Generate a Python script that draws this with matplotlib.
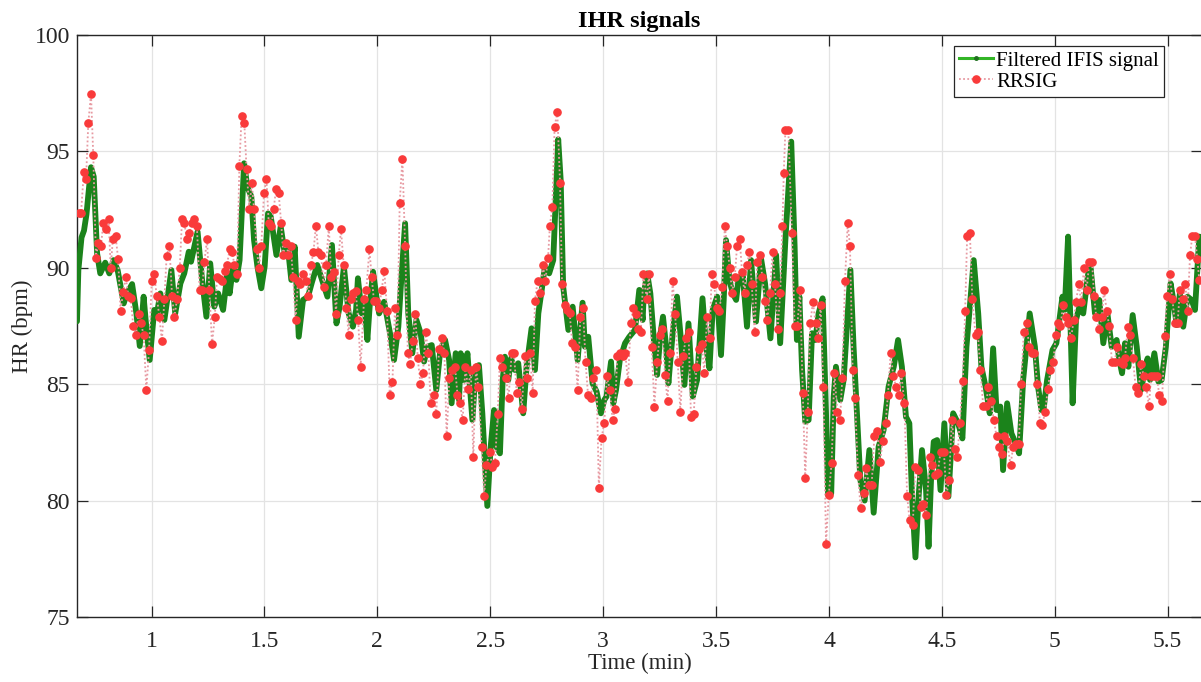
import matplotlib
matplotlib.use("Agg")
import matplotlib.pyplot as plt
from matplotlib.lines import Line2D

plt.rcParams['font.family'] = ['Liberation Serif', 'DejaVu Serif']

# Filtered IFIS heart-rate signal (time in minutes, HR in bpm)
ifis_time = [
    0.670, 0.676, 0.690, 0.701, 0.712, 0.732, 0.744, 0.759, 0.773, 0.795, 0.813,
    0.832, 0.850, 0.877, 0.891, 0.914, 0.933, 0.948, 0.965, 0.974, 0.992,
    1.012, 1.024, 1.039, 1.057, 1.088, 1.105, 1.128, 1.145, 1.165, 1.175,
    1.204, 1.224, 1.243, 1.260, 1.278, 1.295, 1.317, 1.336, 1.346, 1.361,
    1.376, 1.390, 1.410, 1.424, 1.442, 1.454, 1.469, 1.486, 1.501, 1.516,
    1.528, 1.553, 1.572, 1.590, 1.605, 1.619, 1.634, 1.652, 1.671, 1.693,
    1.711, 1.734, 1.755, 1.779, 1.799, 1.819, 1.833, 1.852, 1.873, 1.892,
    1.906, 1.914, 1.931, 1.941, 1.956, 1.966, 1.981, 1.996, 2.008, 2.030,
    2.040, 2.059, 2.074, 2.093, 2.104, 2.123, 2.137, 2.155, 2.173, 2.192,
    2.207, 2.222, 2.241, 2.261, 2.279, 2.300, 2.318, 2.329, 2.347, 2.362,
    2.369, 2.384, 2.399, 2.421, 2.436, 2.450, 2.465, 2.487, 2.502, 2.517,
    2.527, 2.543, 2.555, 2.565, 2.580, 2.592, 2.609, 2.624, 2.646, 2.661,
    2.683, 2.698, 2.713, 2.728, 2.742, 2.761, 2.779, 2.801, 2.812, 2.823,
    2.846, 2.865, 2.887, 2.909, 2.919, 2.934, 2.953, 2.971, 2.990, 3.005,
    3.015, 3.035, 3.045, 3.057, 3.074, 3.097, 3.116, 3.141, 3.160, 3.175,
    3.180, 3.195, 3.209, 3.227, 3.239, 3.254, 3.265, 3.279, 3.289, 3.308,
    3.327, 3.342, 3.360, 3.378, 3.397, 3.416, 3.440, 3.456, 3.471, 3.485,
    3.505, 3.522, 3.534, 3.544, 3.559, 3.574, 3.589, 3.599, 3.618, 3.637,
    3.655, 3.677, 3.699, 3.717, 3.741, 3.766, 3.784, 3.807, 3.833, 3.848,
    3.858, 3.869, 3.881, 3.895, 3.910, 3.925, 3.940, 3.954, 3.972, 3.987,
    3.996, 4.010, 4.021, 4.031, 4.050, 4.065, 4.095, 4.109, 4.139, 4.158,
    4.179, 4.198, 4.220, 4.242, 4.264, 4.287, 4.306, 4.323, 4.341, 4.356,
    4.368, 4.383, 4.397, 4.412, 4.430, 4.441, 4.452, 4.464, 4.479, 4.494,
    4.511, 4.529, 4.550, 4.572, 4.591, 4.609, 4.641, 4.661, 4.675, 4.695,
    4.712, 4.727, 4.742, 4.759, 4.771, 4.789, 4.808, 4.827, 4.842, 4.860,
    4.889, 4.912, 4.926, 4.941, 4.951, 4.966, 4.990, 5.007, 5.034, 5.044,
    5.059, 5.079, 5.094, 5.109, 5.126, 5.148, 5.159, 5.178, 5.197, 5.215,
    5.233, 5.252, 5.274, 5.286, 5.298, 5.311, 5.326, 5.345, 5.363, 5.382,
    5.399, 5.411, 5.422, 5.441, 5.459, 5.473, 5.492, 5.513, 5.525, 5.540,
    5.554, 5.569, 5.588, 5.606, 5.621, 5.640, 5.652,
]
ifis_hr = [
    87.70, 89.90, 91.30, 91.60, 92.30, 94.32, 93.92, 90.62, 89.76, 90.22, 89.76,
    90.33, 89.90, 88.47, 88.90, 89.30, 88.04, 86.64, 88.76, 87.76, 86.04,
    88.19, 88.04, 88.90, 87.76, 89.90, 88.04, 89.33, 89.76, 90.69, 90.26,
    91.55, 89.48, 87.90, 90.19, 88.33, 88.90, 88.19, 89.76, 88.90, 90.05,
    89.48, 90.33, 94.49, 93.49, 93.06, 91.19, 90.05, 89.12, 90.05, 92.34,
    92.20, 90.55, 91.77, 90.62, 90.76, 89.48, 90.91, 87.04, 88.62, 88.76,
    89.40, 90.12, 89.48, 88.76, 90.98, 87.61, 88.33, 90.05, 88.04, 87.47,
    88.19, 89.55, 88.04, 88.62, 86.90, 88.33, 89.83, 88.76, 88.04, 88.54,
    88.04, 87.04, 86.04, 87.47, 89.19, 91.91, 88.04, 86.33, 87.76, 87.19,
    85.97, 86.61, 86.68, 84.75, 86.47, 86.90, 86.04, 84.18, 86.33, 84.32,
    86.33, 85.18, 86.33, 83.46, 85.75, 85.82, 83.75, 79.77, 82.32, 83.89,
    82.32, 82.03, 85.18, 86.18, 85.18, 86.11, 85.61, 85.90, 83.75, 85.75,
    87.40, 85.61, 88.04, 89.05, 90.05, 89.76, 90.33, 95.52, 93.77, 89.19,
    87.33, 88.33, 86.04, 88.50, 86.61, 87.04, 85.04, 84.68, 83.75, 84.32,
    84.47, 85.97, 84.18, 84.75, 86.04, 86.76, 87.04, 87.33, 89.05, 87.76,
    88.90, 89.76, 88.90, 86.61, 85.40, 87.19, 87.90, 86.61, 85.04, 87.19,
    88.76, 87.19, 84.97, 87.61, 84.47, 85.18, 88.69, 86.61, 85.68, 88.19,
    88.76, 86.25, 88.62, 91.19, 89.48, 88.90, 88.62, 89.48, 89.76, 87.47,
    90.33, 87.69, 90.41, 89.33, 86.97, 90.55, 86.76, 91.19, 95.42, 90.91,
    86.90, 88.76, 85.61, 83.39, 83.46, 87.19, 86.90, 88.04, 88.69, 83.75,
    80.24, 80.31, 84.47, 85.75, 84.32, 85.18, 89.91, 86.61, 80.88, 80.00,
    82.17, 79.48, 82.32, 83.03, 84.89, 85.75, 86.90, 85.75, 83.60, 83.32,
    80.17, 77.56, 80.17, 82.17, 80.45, 78.02, 80.88, 82.53, 82.60, 80.45,
    83.32, 80.17, 83.75, 83.32, 82.67, 86.61, 90.33, 88.04, 85.75, 84.82,
    83.75, 86.54, 83.89, 84.04, 81.31, 84.18, 82.89, 82.46, 82.03, 85.18,
    88.04, 86.61, 84.89, 83.89, 83.96, 85.18, 86.47, 86.76, 88.76, 88.19,
    91.34, 84.18, 87.76, 88.33, 88.04, 89.76, 89.98, 88.04, 88.62, 86.76,
    88.04, 86.61, 86.90, 86.04, 85.47, 86.76, 85.75, 87.97, 86.61, 84.75,
    85.61, 86.11, 85.18, 86.33, 85.11, 85.18, 86.61, 89.33, 88.62, 87.54,
    88.90, 87.47, 88.76, 88.62, 88.19, 91.34, 91.30,
]

# RR-interval derived heart rate, one value per beat
rr_time = [
    0.677, 0.688, 0.700, 0.710, 0.720, 0.732, 0.742, 0.754, 0.764, 0.776,
    0.787, 0.798, 0.810, 0.819, 0.829, 0.841, 0.852, 0.863, 0.874, 0.886,
    0.897, 0.908, 0.919, 0.931, 0.943, 0.953, 0.965, 0.977, 0.989, 1.001,
    1.012, 1.023, 1.035, 1.046, 1.057, 1.067, 1.079, 1.091, 1.101, 1.113,
    1.125, 1.135, 1.145, 1.157, 1.167, 1.179, 1.190, 1.201, 1.213, 1.224,
    1.234, 1.246, 1.256, 1.268, 1.280, 1.290, 1.302,
    1.312, 1.324, 1.334, 1.346, 1.357, 1.367, 1.379, 1.389, 1.399, 1.411,
    1.421, 1.433, 1.444, 1.454, 1.466, 1.476, 1.486, 1.498, 1.509, 1.519,
    1.531, 1.541, 1.551, 1.563, 1.574, 1.584, 1.596, 1.606, 1.616, 1.627,
    1.638, 1.649, 1.659, 1.672, 1.684, 1.695, 1.706, 1.717, 1.728, 1.739,
    1.751, 1.762, 1.773, 1.785, 1.796, 1.807, 1.817, 1.829, 1.839, 1.851,
    1.863, 1.873, 1.882, 1.892, 1.904, 1.915, 1.926,
    1.941, 1.951, 1.965, 1.975, 1.985, 1.996, 2.008, 2.019, 2.031, 2.043,
    2.055, 2.067, 2.078, 2.089, 2.099, 2.111, 2.123, 2.135, 2.145, 2.157,
    2.168, 2.179, 2.191, 2.202, 2.214, 2.226, 2.236, 2.250, 2.261, 2.273,
    2.285, 2.297, 2.307, 2.319, 2.331, 2.344, 2.355, 2.366, 2.378, 2.390,
    2.402, 2.414, 2.425, 2.437, 2.447, 2.462, 2.473, 2.483, 2.498, 2.510,
    2.521, 2.533, 2.543, 2.554,
    2.570, 2.581, 2.595, 2.605, 2.617, 2.629, 2.640, 2.652, 2.664, 2.676,
    2.688, 2.698, 2.710, 2.722, 2.733, 2.744, 2.756, 2.764, 2.775, 2.785,
    2.797, 2.809, 2.818, 2.829, 2.841, 2.852, 2.863, 2.875, 2.887, 2.899,
    2.911, 2.922, 2.933, 2.945, 2.956, 2.970, 2.981, 2.993, 3.005, 3.017,
    3.029, 3.042, 3.052, 3.063, 3.074, 3.086, 3.098, 3.110, 3.122, 3.133,
    3.145, 3.156, 3.167, 3.178,
    3.193, 3.203, 3.215, 3.227, 3.239, 3.251, 3.262, 3.274, 3.285, 3.296,
    3.308, 3.319, 3.330, 3.342, 3.354, 3.366, 3.378, 3.389, 3.401, 3.413,
    3.425, 3.437, 3.448, 3.460, 3.471, 3.481, 3.491, 3.503, 3.515, 3.527,
    3.539, 3.549, 3.561, 3.571, 3.583, 3.593, 3.605, 3.615, 3.626, 3.637,
    3.648, 3.658, 3.671, 3.682, 3.694, 3.705, 3.717, 3.727, 3.739, 3.750,
    3.761, 3.773, 3.784, 3.794, 3.800, 3.807,
    3.820, 3.836, 3.848, 3.860, 3.872, 3.884, 3.895, 3.906, 3.917, 3.929,
    3.941, 3.953, 3.963, 3.975, 3.987, 3.999, 4.012, 4.024, 4.037, 4.049,
    4.059, 4.071, 4.083, 4.093, 4.105, 4.115, 4.129, 4.140, 4.154, 4.165,
    4.177, 4.189, 4.201, 4.213, 4.226, 4.238, 4.251, 4.261, 4.273, 4.285,
    4.297, 4.309, 4.320, 4.334, 4.346, 4.357, 4.371, 4.383, 4.394, 4.406,
    4.418, 4.430,
    4.447, 4.458, 4.470, 4.482, 4.494, 4.509, 4.520, 4.532, 4.544, 4.557,
    4.569, 4.579, 4.593, 4.603, 4.612, 4.624, 4.635, 4.649, 4.659, 4.671,
    4.683, 4.695, 4.706, 4.718, 4.730, 4.742, 4.755, 4.765, 4.777, 4.789,
    4.804, 4.816, 4.827, 4.841, 4.851, 4.863, 4.876, 4.886, 4.898, 4.910,
    4.922, 4.934, 4.945, 4.957, 4.969, 4.981, 4.993, 5.005, 5.013, 5.025,
    5.037, 5.049, 5.058,
    5.072, 5.084, 5.094, 5.106, 5.117, 5.129, 5.141, 5.153, 5.165, 5.174,
    5.184, 5.196, 5.208, 5.218, 5.230, 5.241, 5.253, 5.265, 5.277, 5.289,
    5.301, 5.311, 5.323, 5.334, 5.346, 5.358, 5.370, 5.382, 5.394, 5.405,
    5.417, 5.427, 5.439, 5.451, 5.463, 5.475, 5.487, 5.497, 5.509, 5.521,
    5.532, 5.544, 5.554, 5.566, 5.578, 5.588, 5.599, 5.609, 5.621, 5.631,
    5.640,
]
rr_hr = [
    92.37, 92.37, 94.10, 93.80, 96.21, 97.47, 94.83, 90.41, 91.08, 90.95,
    91.94, 91.65, 92.08, 90.01, 91.24, 91.37, 90.39, 88.14, 88.96, 89.59,
    88.79, 88.69, 87.50, 87.11, 88.02, 87.64, 87.11, 84.77, 86.47, 89.45,
    89.73, 88.79, 87.87, 86.86, 88.66, 90.52, 90.95, 88.79, 87.87, 88.66,
    89.98, 92.08, 91.94, 91.22, 91.51, 91.94, 92.08, 91.80, 89.05, 89.05,
    90.26, 91.22, 89.05, 86.73, 87.87, 89.59, 89.53,
    89.45, 89.88, 90.12, 90.79, 90.68, 90.12, 89.73, 94.39, 96.52, 96.21,
    94.23, 92.51, 93.66, 92.51, 90.79, 90.01, 90.95, 93.20, 93.80, 91.94,
    91.80, 92.51, 93.37, 93.20, 91.94, 90.55, 91.08, 90.55, 90.95, 89.59,
    87.76, 89.45, 89.30, 89.73, 89.45, 88.79, 90.12, 90.68, 91.80, 90.68,
    90.55, 89.19, 90.12, 91.80, 89.59, 89.83, 88.02, 90.55, 91.65, 90.12,
    88.26, 87.11, 88.65, 88.90, 89.02, 87.76, 85.75,
    88.65, 89.05, 90.79, 89.59, 88.59, 88.59, 88.26, 89.05, 89.86, 88.16,
    84.54, 85.11, 88.26, 87.11, 92.77, 94.69, 90.95, 86.35, 85.87, 86.86,
    88.02, 86.11, 85.01, 85.50, 87.23, 86.35, 84.18, 84.54, 83.70, 86.50,
    86.97, 86.35, 82.77, 85.25, 85.61, 85.75, 84.54, 84.18, 83.46, 85.75,
    84.78, 85.61, 81.86, 85.75, 84.89, 82.32, 80.20, 81.53, 82.10, 81.43,
    81.63, 83.70, 86.11, 85.75,
    85.25, 84.39, 86.35, 86.35, 84.64, 85.11, 83.92, 86.21, 85.25, 86.35,
    84.64, 88.59, 89.45, 88.93, 90.12, 89.45, 90.41, 91.80, 92.63, 96.06,
    96.68, 93.66, 89.30, 88.40, 88.19, 88.04, 86.76, 86.61, 84.75, 87.87,
    88.26, 85.97, 84.54, 84.39, 85.25, 85.61, 80.56, 82.68, 83.35, 85.37,
    84.75, 83.46, 83.92, 86.21, 86.35, 86.21, 86.33, 85.11, 87.61, 88.26,
    88.02, 87.36, 87.26, 89.73,
    88.65, 89.73, 86.61, 84.04, 85.97, 87.11, 87.36, 85.40, 84.29, 86.35,
    89.45, 88.00, 85.97, 83.82, 86.21, 86.97, 87.26, 83.58, 83.70, 85.73,
    86.50, 86.73, 85.50, 87.87, 87.00, 89.73, 89.30, 88.26, 88.16, 89.19,
    91.80, 90.95, 89.98, 88.93, 89.59, 90.95, 91.22, 89.83, 88.93, 90.12,
    90.68, 89.30, 87.23, 90.26, 90.55, 89.59, 88.59, 87.76, 88.90, 90.68,
    89.30, 87.36, 88.90, 91.80, 94.09, 95.92,
    95.92, 91.51, 87.50, 87.50, 89.05, 84.64, 80.98, 83.82, 87.61, 88.53,
    87.61, 86.97, 88.40, 84.89, 78.14, 80.24, 81.63, 85.50, 83.82, 83.46,
    85.25, 89.45, 91.91, 90.95, 85.61, 84.39, 81.10, 79.70, 80.31, 81.41,
    80.67, 80.67, 82.77, 83.00, 81.64, 82.56, 83.35, 84.54, 86.35, 85.35,
    84.89, 84.54, 85.50, 84.18, 80.21, 79.17, 78.95, 81.43, 81.31, 79.71,
    79.85, 79.38,
    81.86, 81.53, 81.10, 81.20, 82.10, 82.10, 80.24, 80.88, 83.46, 82.20,
    81.86, 83.35, 85.14, 88.14, 91.38, 91.51, 88.65, 87.11, 87.23, 85.61,
    84.06, 84.06, 84.89, 84.29, 83.46, 82.77, 82.32, 81.99, 82.77, 82.56,
    81.53, 82.32, 82.43, 82.43, 85.01, 87.23, 87.61, 86.61, 86.35, 86.35,
    85.01, 83.35, 83.23, 83.82, 84.78, 85.61, 85.97, 87.11, 87.61, 87.50,
    88.40, 87.87, 87.61,
    86.97, 87.76, 88.53, 89.30, 88.53, 89.98, 89.05, 90.26, 90.26, 88.79,
    87.87, 87.36, 87.87, 89.05, 88.14, 87.50, 85.97, 85.97, 86.61, 85.97,
    85.85, 86.11, 87.47, 87.11, 86.11, 84.89, 84.64, 85.85, 85.35, 84.89,
    84.06, 85.35, 85.35, 85.35, 84.54, 84.29, 87.07, 88.79, 89.72, 88.65,
    87.61, 87.61, 89.05, 88.65, 89.30, 88.14, 90.55, 91.37, 91.37, 90.38,
    89.48,
]

x_ticks = [1, 1.5, 2, 2.5, 3, 3.5, 4, 4.5, 5, 5.5]
x_tick_labels = ['1', '1.5', '2', '2.5', '3', '3.5', '4', '4.5', '5', '5.5']
y_ticks = [75, 80, 85, 90, 95, 100]

green = '#1b831b'
legend_green = '#33b526'
marker_red = '#f93a3a'
dot_pink = '#e79aa2'
axis_col = '#262626'

fig = plt.figure(figsize=(12.01, 6.82), dpi=100)
ax = fig.add_axes([77 / 1201, 65 / 682, 1125 / 1201, 582 / 682])

ax.plot(ifis_time, ifis_hr, color=green, lw=4.2, solid_joinstyle='round',
        solid_capstyle='round', zorder=3)
ax.plot(rr_time, rr_hr, color=dot_pink, lw=1.3, linestyle=(0, (1.0, 1.3)),
        zorder=4)
ax.plot(rr_time, rr_hr, linestyle='none', marker='o', markersize=5.2,
        markerfacecolor=marker_red, markeredgecolor=marker_red, zorder=5)

ax.set_xlim(0.670, 5.652)
ax.set_ylim(75, 100)
ax.set_xticks(x_ticks)
ax.set_xticklabels(x_tick_labels)
ax.set_yticks(y_ticks)

ax.grid(True, color='#e3e3e3', lw=0.9, zorder=0)
ax.set_axisbelow(True)
for sp in ax.spines.values():
    sp.set_color(axis_col)
    sp.set_linewidth(1.0)
ax.tick_params(direction='in', length=8, width=0.9, color=axis_col,
               labelcolor=axis_col, labelsize=17, top=True, right=True)
ax.tick_params(axis='x', pad=10)
ax.tick_params(axis='y', pad=5)

ax.set_title('IHR signals', fontsize=17.5, fontweight='bold', pad=6,
             color='black')
ax.set_xlabel('Time (min)', fontsize=16.5, labelpad=1, color=axis_col)
ax.set_ylabel('HR (bpm)', fontsize=16.5, labelpad=1, color=axis_col)

handles = [
    Line2D([], [], color=legend_green, lw=2.2, marker='.', markersize=5,
           markerfacecolor='#1f6f1f', markeredgecolor='#1f6f1f'),
    Line2D([], [], color=dot_pink, lw=1.3, linestyle=(0, (1.0, 1.3)),
           marker='o', markersize=5.2, markerfacecolor=marker_red,
           markeredgecolor=marker_red),
]
leg = ax.legend(handles, ['Filtered IFIS signal', 'RRSIG'],
                loc='upper right', bbox_to_anchor=(0.9665, 0.9816),
                borderaxespad=0, fontsize=15, frameon=True, fancybox=False,
                edgecolor=axis_col, framealpha=1, handlelength=1.6,
                handletextpad=0.18, borderpad=0.25, labelspacing=0.08)
leg.get_frame().set_linewidth(0.9)

fig.savefig('out.png', dpi=100)
